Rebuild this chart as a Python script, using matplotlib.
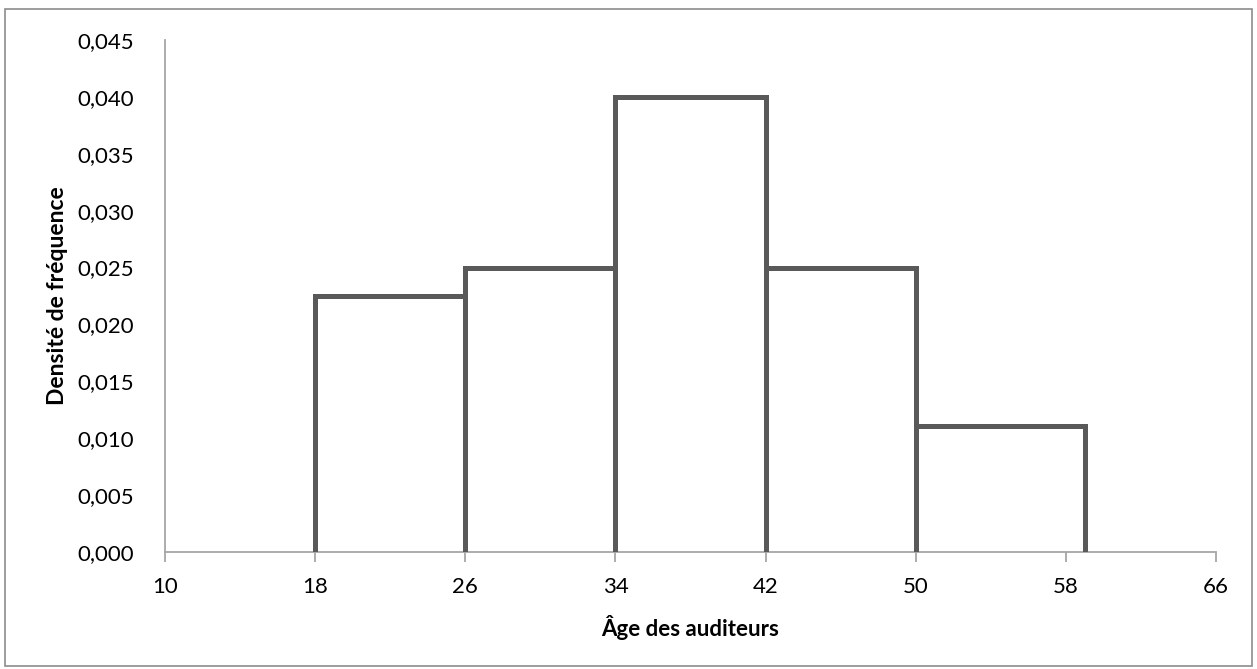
import numpy as np
import matplotlib
matplotlib.use("Agg")
import matplotlib.pyplot as plt
from matplotlib.patches import Rectangle

# histogram data: class edges (ages) and frequency densities
edges = [18, 26, 34, 42, 50, 59]
densities = [0.0225, 0.025, 0.040, 0.025, 0.0111]
x_ticks = [10, 18, 26, 34, 42, 50, 58, 66]
y_ticks = [0.000, 0.005, 0.010, 0.015, 0.020, 0.025, 0.030, 0.035, 0.040, 0.045]

plt.rcParams['font.family'] = ['Lato', 'DejaVu Sans']

line_col = '#595959'
axis_col = '#a6a6a6'

fig = plt.figure(figsize=(12.57, 6.69), dpi=100)
ax = fig.add_axes([0.1313, 0.1749, 0.9674 - 0.1313, 0.9402 - 0.1749])

edges_arr = np.array(edges, dtype=float)
dens = np.array(densities)
widths = np.diff(edges_arr)

# white fill, outline drawn separately (no bottom edge)
ax.bar(edges_arr[:-1], dens, width=widths, align='edge', color='white', linewidth=0)
ax.hlines(dens, edges_arr[:-1], edges_arr[1:], colors=line_col, linewidth=3.6, capstyle='projecting', zorder=3)
left_h = np.concatenate([[0], dens])
right_h = np.concatenate([dens, [0]])
ax.vlines(edges_arr, 0, np.maximum(left_h, right_h), colors=line_col, linewidth=3.6, zorder=3)

ax.set_xlim(10, 66)
ax.set_ylim(0, 0.045)
ax.set_xticks(x_ticks)
ax.set_yticks(y_ticks)
ax.set_yticklabels([f"{v:.3f}".replace('.', ',') for v in y_ticks])

for s in ['top', 'right']:
    ax.spines[s].set_visible(False)
for s in ['left', 'bottom']:
    ax.spines[s].set_color(axis_col)
    ax.spines[s].set_linewidth(1.3)

ax.tick_params(axis='x', direction='out', length=7, width=1.3, color=axis_col, labelsize=16, pad=11)
ax.tick_params(axis='y', length=0, labelsize=16, pad=22)

ax.set_xlabel('Âge des auditeurs', fontsize=16, fontweight='bold', labelpad=13)
ax.set_ylabel('Densité de fréquence', fontsize=16.5, fontweight='bold', labelpad=7)

# outer chart frame
fig.patches.append(Rectangle((5 / 1257, 3 / 669), 1 - 10 / 1257, 1 - 12 / 669,
                             transform=fig.transFigure, fill=False,
                             edgecolor='#8c8c8c', linewidth=1.2))

fig.savefig('out.png', dpi=100)
